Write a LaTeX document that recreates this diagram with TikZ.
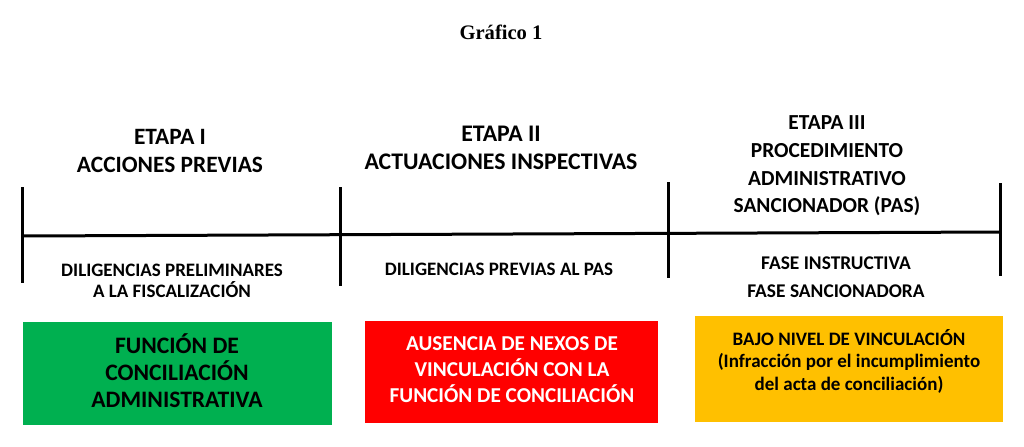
\documentclass[tikz,border=0pt]{standalone}
\usepackage{fontspec}
\setmainfont{Carlito}
\newfontfamily\titlefont{Liberation Serif}
\usepackage{xcolor}
\definecolor{verde}{HTML}{00B050}
\definecolor{rojo}{HTML}{FF0000}
\definecolor{ambar}{HTML}{FFC000}
\tikzset{
  etapa/.style={align=center,font=\bfseries\fontsize{11.8}{14}\selectfont},
  diligencia/.style={align=center,font=\bfseries\fontsize{9.5}{10.5}\selectfont},
  funcion/.style={align=center,inner sep=0pt,font=\bfseries\fontsize{11.8}{13.5}\selectfont},
  hito/.style={line width=1.5pt}
}

\begin{document}
\begin{tikzpicture}[x=0.5pt,y=-0.5pt]
\useasboundingbox (0,0) rectangle (1024,446);
% Title
\node[font=\titlefont\bfseries\fontsize{10.3}{12}\selectfont] (titulo) at (501,32) {Gráfico 1};
% Timeline
\coordinate (t0) at (22,236);
\coordinate (t3) at (1000,232);
\draw[hito] (t0) -- (t3);
\draw[hito] (22,187) -- (22,283);
\draw[hito] (340,187) -- (340,286);
\draw[hito] (668,182) -- (668,278);
\draw[hito] (1000,183) -- (1000,276);
% Stages
\node[etapa,font=\bfseries\fontsize{11.7}{14}\selectfont] (etapaI) at (170,151) {ETAPA I\\ACCIONES PREVIAS};
\node[etapa,font=\bfseries\fontsize{11.9}{14}\selectfont] (etapaII) at (501,148) {ETAPA II\\ACTUACIONES INSPECTIVAS};
\node[etapa,font=\bfseries\fontsize{10.7}{13.8}\selectfont] (etapaIII) at (827,166) {ETAPA III\\PROCEDIMIENTO\\ADMINISTRATIVO\\SANCIONADOR (PAS)};
% Below the line
\node[diligencia] (dilI) at (172,281) {DILIGENCIAS PRELIMINARES\\A LA FISCALIZACIÓN};
\node[diligencia] (dilII) at (499,269) {DILIGENCIAS PREVIAS AL PAS};
\node[diligencia,font=\bfseries\fontsize{9.7}{14}\selectfont] (dilIII) at (836,277) {FASE INSTRUCTIVA\\FASE SANCIONADORA};
% Boxes
\fill[verde] (23,322) rectangle (332,425);
\fill[rojo] (365,321) rectangle (658,423);
\fill[ambar] (695,316) rectangle (1003,422);
\node[funcion] (boxI) at (177,371) {FUNCIÓN DE\\CONCILIACIÓN\\ADMINISTRATIVA};
\node[funcion,text=white,font=\bfseries\fontsize{10.6}{13}\selectfont] (boxII) at (512,370) {AUSENCIA DE NEXOS DE\\VINCULACIÓN CON LA\\FUNCIÓN DE CONCILIACIÓN};
\node[funcion,font=\bfseries\fontsize{9.5}{11.25}\selectfont] (boxIII) at (849,361) {BAJO NIVEL DE VINCULACIÓN\\(Infracción por el incumplimiento\\del acta de conciliación)};
\end{tikzpicture}
\end{document}
